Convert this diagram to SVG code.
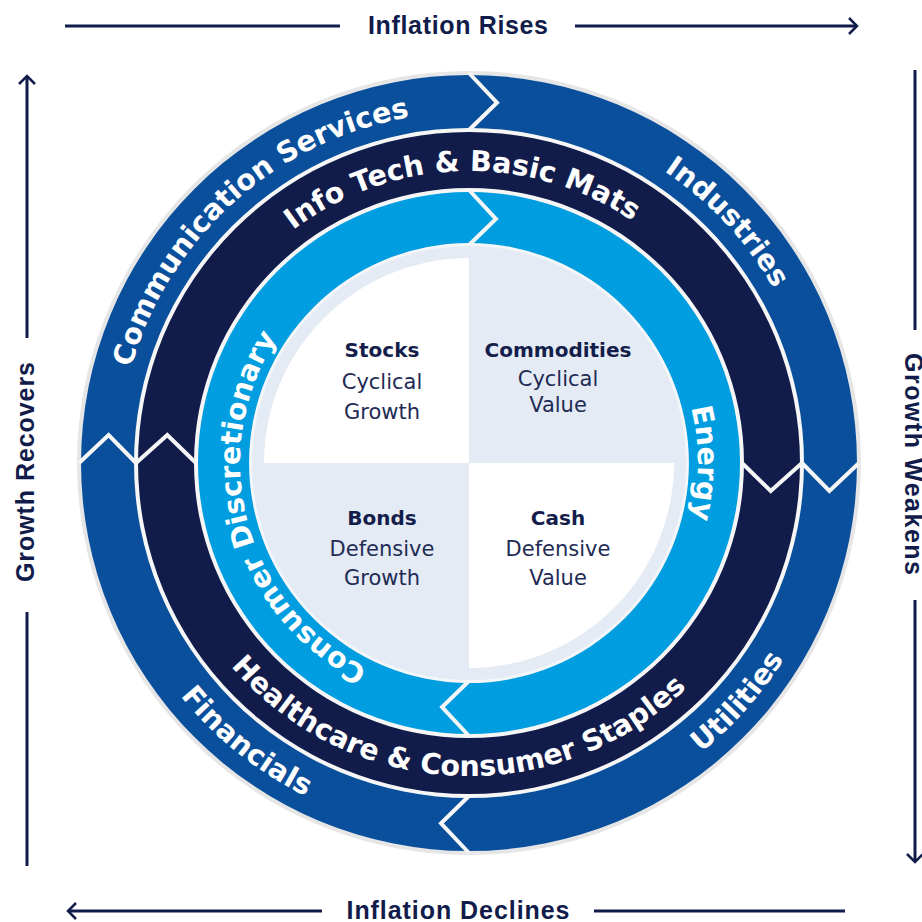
<svg xmlns="http://www.w3.org/2000/svg" xmlns:xlink="http://www.w3.org/1999/xlink" width="922" height="922" viewBox="0 0 922 922">
<style>
.outer{fill:#0a4f9c}
.navy{fill:#111c4a}
.light{fill:#009ee0}
.gap{fill:none;stroke:#f6f6f6;stroke-width:4;stroke-linejoin:miter}
.rt{font-family:"DejaVu Sans",sans-serif;font-weight:bold;font-size:28.5px;fill:#fff}
.ax{font-family:"Liberation Sans",Arial,sans-serif;font-weight:bold;font-size:25px;fill:#111c4a}
.axl{fill:none;stroke:#111c4a;stroke-width:3}
.arr{fill:none;stroke:#111c4a;stroke-width:2.5;stroke-linejoin:miter}
.qt{font-family:"DejaVu Sans",sans-serif;font-weight:bold;font-size:20px;fill:#141e4b;text-anchor:middle}
.qs{font-family:"DejaVu Sans",sans-serif;font-size:21px;fill:#222b55;text-anchor:middle}
</style>
<defs>
<path id="p-comm" d="M 125.67 535.98 A 351 351 0 0 1 577.47 129.18"/>
<path id="p-ind" d="M 511.78 114.61 A 351 351 0 0 1 819.52 444.63"/>
<path id="p-util" d="M 523.20 830.02 A 371 371 0 0 0 839.86 473.36"/>
<path id="p-fin" d="M 105.32 536.33 A 371 371 0 0 0 478.06 833.89"/>
<path id="p-info" d="M 192.09 370.35 A 292 292 0 0 1 740.68 355.98"/>
<path id="p-health" d="M 163.18 529.68 A 313 313 0 0 0 767.18 558.16"/>
<path id="p-energy" d="M 616.20 287.58 A 229 229 0 0 1 616.20 638.42"/>
<path id="p-cons" d="M 490.15 691.02 A 229 229 0 0 1 371.13 255.97"/>
</defs>
<rect width="922" height="922" fill="#fff"/>
<circle cx="469" cy="463" r="390" fill="#f6f6f6" stroke="#e6e6e6" stroke-width="4"/>

<g id="communication-services">
<path class="outer" d="M 81 463 A 388 388 0 0 1 469 75 L 496.99 102.59 L 469 128 A 335 335 0 0 0 134 463 L 108.59 435.01 Z"/>
<text class="rt"><textPath xlink:href="#p-comm" href="#p-comm" startOffset="50%" text-anchor="middle">Communication Services</textPath></text>
</g>
<g id="industries">
<path class="outer" d="M 469 75 A 388 388 0 0 1 857 463 L 829.41 490.99 L 804 463 A 335 335 0 0 0 469 128 L 496.99 102.59 Z"/>
<text class="rt"><textPath xlink:href="#p-ind" href="#p-ind" startOffset="50%" text-anchor="middle">Industries</textPath></text>
</g>
<g id="utilities">
<path class="outer" d="M 857 463 A 388 388 0 0 1 469 851 L 441.01 823.41 L 469 798 A 335 335 0 0 0 804 463 L 829.41 490.99 Z"/>
<text class="rt"><textPath xlink:href="#p-util" href="#p-util" startOffset="50%" text-anchor="middle">Utilities</textPath></text>
</g>
<g id="financials">
<path class="outer" d="M 469 851 A 388 388 0 0 1 81 463 L 108.59 435.01 L 134 463 A 335 335 0 0 0 469 798 L 441.01 823.41 Z"/>
<text class="rt"><textPath xlink:href="#p-fin" href="#p-fin" startOffset="50%" text-anchor="middle">Financials</textPath></text>
</g>
<g id="info-tech-basic-mats">
<path class="navy" d="M 138 463 A 331 331 0 0 1 800 463 L 770.71 490.96 L 744 463 A 275 275 0 0 0 194 463 L 167.29 435.04 Z"/>
<text class="rt"><textPath xlink:href="#p-info" href="#p-info" startOffset="50%" text-anchor="middle">Info Tech &amp; Basic Mats</textPath></text>
</g>
<g id="healthcare-consumer-staples">
<path class="navy" d="M 800 463 A 331 331 0 0 1 138 463 L 167.29 435.04 L 194 463 A 275 275 0 0 0 744 463 L 770.71 490.96 Z"/>
<text class="rt"><textPath xlink:href="#p-health" href="#p-health" startOffset="50%" text-anchor="middle">Healthcare &amp; Consumer Staples</textPath></text>
</g>
<g id="energy">
<path class="light" d="M 469 192 A 271 271 0 0 1 469 734 L 442.06 707.02 L 469 683 A 220 220 0 0 0 469 243 L 495.94 218.98 Z"/>
<text class="rt"><textPath xlink:href="#p-energy" href="#p-energy" startOffset="50%" text-anchor="middle">Energy</textPath></text>
</g>
<g id="consumer-discretionary">
<path class="light" d="M 469 734 A 271 271 0 0 1 469 192 L 495.94 218.98 L 469 243 A 220 220 0 0 0 469 683 L 442.06 707.02 Z"/>
<text class="rt"><textPath xlink:href="#p-cons" href="#p-cons" startOffset="50%" text-anchor="middle">Consumer Discretionary</textPath></text>
</g>

<g id="connectors">
<polyline class="gap" points="469,73 496.99,102.59 469,130"/>
<polyline class="gap" points="859,463 829.41,490.99 802,463"/>
<polyline class="gap" points="469,853 441.01,823.41 469,796"/>
<polyline class="gap" points="79,463 108.59,435.01 136,463"/>
<polyline class="gap" points="802,463 770.71,490.96 742,463"/>
<polyline class="gap" points="136,463 167.29,435.04 196,463"/>
<polyline class="gap" points="469,190 495.94,218.98 469,245"/>
<polyline class="gap" points="469,736 442.06,707.02 469,681"/>
</g>

<g id="quadrants">
<circle cx="469" cy="463" r="218" fill="#e4ebf4" stroke="#f4f6fa" stroke-width="2"/>
<path d="M 469 463 L 264 463 A 205 205 0 0 1 469 258 Z" fill="#fff"/>
<path d="M 469 463 L 674 463 A 205 205 0 0 1 469 668 Z" fill="#fff"/>
</g>
<g id="stocks">
<text class="qt" x="382" y="357">Stocks</text>
<text class="qs" x="382" y="389">Cyclical</text>
<text class="qs" x="382" y="419">Growth</text>
</g>
<g id="commodities">
<text class="qt" x="558" y="357">Commodities</text>
<text class="qs" x="558" y="386">Cyclical</text>
<text class="qs" x="558" y="412">Value</text>
</g>
<g id="bonds">
<text class="qt" x="382" y="525">Bonds</text>
<text class="qs" x="382" y="556">Defensive</text>
<text class="qs" x="382" y="585">Growth</text>
</g>
<g id="cash">
<text class="qt" x="558" y="525">Cash</text>
<text class="qs" x="558" y="556">Defensive</text>
<text class="qs" x="558" y="585">Value</text>
</g>

<g id="axis-top">
<line class="axl" x1="65" y1="26" x2="340" y2="26"/>
<line class="axl" x1="575" y1="26" x2="857" y2="26"/>
<polyline class="arr" points="849,18 857,26 849,34"/>
<text class="ax" x="458" y="34" text-anchor="middle" textLength="180">Inflation Rises</text>
</g>
<g id="axis-bottom">
<line class="axl" x1="68" y1="911" x2="322" y2="911"/>
<line class="axl" x1="594" y1="911" x2="845" y2="911"/>
<polyline class="arr" points="76,903 68,911 76,919"/>
<text class="ax" x="458" y="919" text-anchor="middle" textLength="223">Inflation Declines</text>
</g>
<g id="axis-left">
<line class="axl" x1="27" y1="76" x2="27" y2="338"/>
<line class="axl" x1="27" y1="612" x2="27" y2="866"/>
<polyline class="arr" points="19,84 27,76 35,84"/>
<text class="ax" transform="translate(34,472) rotate(-90)" text-anchor="middle" textLength="220">Growth Recovers</text>
</g>
<g id="axis-right">
<line class="axl" x1="915" y1="70" x2="915" y2="330"/>
<line class="axl" x1="915" y1="600" x2="915" y2="862"/>
<polyline class="arr" points="907,854 915,862 923,854"/>
<text class="ax" transform="translate(905,464) rotate(90)" text-anchor="middle" textLength="222">Growth Weakens</text>
</g>
</svg>
